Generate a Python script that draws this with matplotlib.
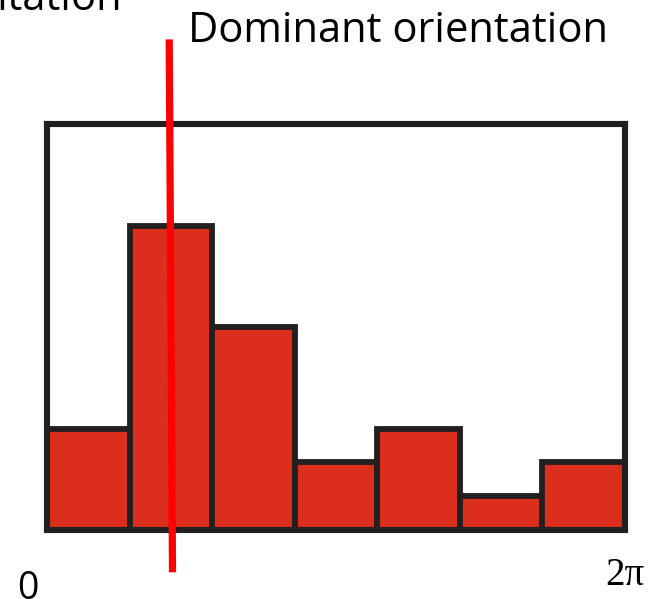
import matplotlib
matplotlib.use("Agg")
import matplotlib.pyplot as plt
import numpy as np

# Orientation histogram: 7 bins spanning 0..2*pi
bin_counts = [3, 9, 6, 2, 3, 1, 2]
peak_line_x = [1.48, 1.52]   # dominant orientation marker (bin units), top -> bottom
peak_line_y = [14.5, -1.25]
y_max = 12
tick_labels = ["0", "2\u03c0"]

W, H = 658, 599
fig = plt.figure(figsize=(W / 100, H / 100), dpi=100)
fig.patch.set_facecolor("white")

ax = fig.add_axes([47 / W, (H - 530) / H, 578 / W, 406 / H])
n = len(bin_counts)
ax.bar(np.arange(n) + 0.5, bin_counts, width=1.0, color="#dc2e1c",
       edgecolor="#231f20", linewidth=4.2, zorder=2)
ax.set_xlim(0, n)
ax.set_ylim(0, y_max)
ax.set_xticks([])
ax.set_yticks([])
for s in ax.spines.values():
    s.set_linewidth(4.4)
    s.set_color("#231f20")
    s.set_zorder(3)

ax.plot(peak_line_x, peak_line_y, color="#ff0000", linewidth=5.2,
        solid_capstyle="butt", clip_on=False, zorder=5)

font = ["Open Sans", "DejaVu Sans"]
fig.text(188 / W, 1 - 42 / H, "Dominant orientation", fontsize=30,
         family=font, ha="left", va="baseline")
fig.text(122 / W, 1 - 10 / H, "orientation", fontsize=30,
         family=font, ha="right", va="baseline")
fig.text(28 / W, 1 - 599 / H, tick_labels[0], fontsize=27,
         family=font, ha="center", va="baseline")
fig.text(625 / W, 1 - 585 / H, tick_labels[1], fontsize=28,
         family=["Liberation Serif", "DejaVu Serif"], ha="center", va="baseline")

fig.savefig("out.png", dpi=100, facecolor="white")
